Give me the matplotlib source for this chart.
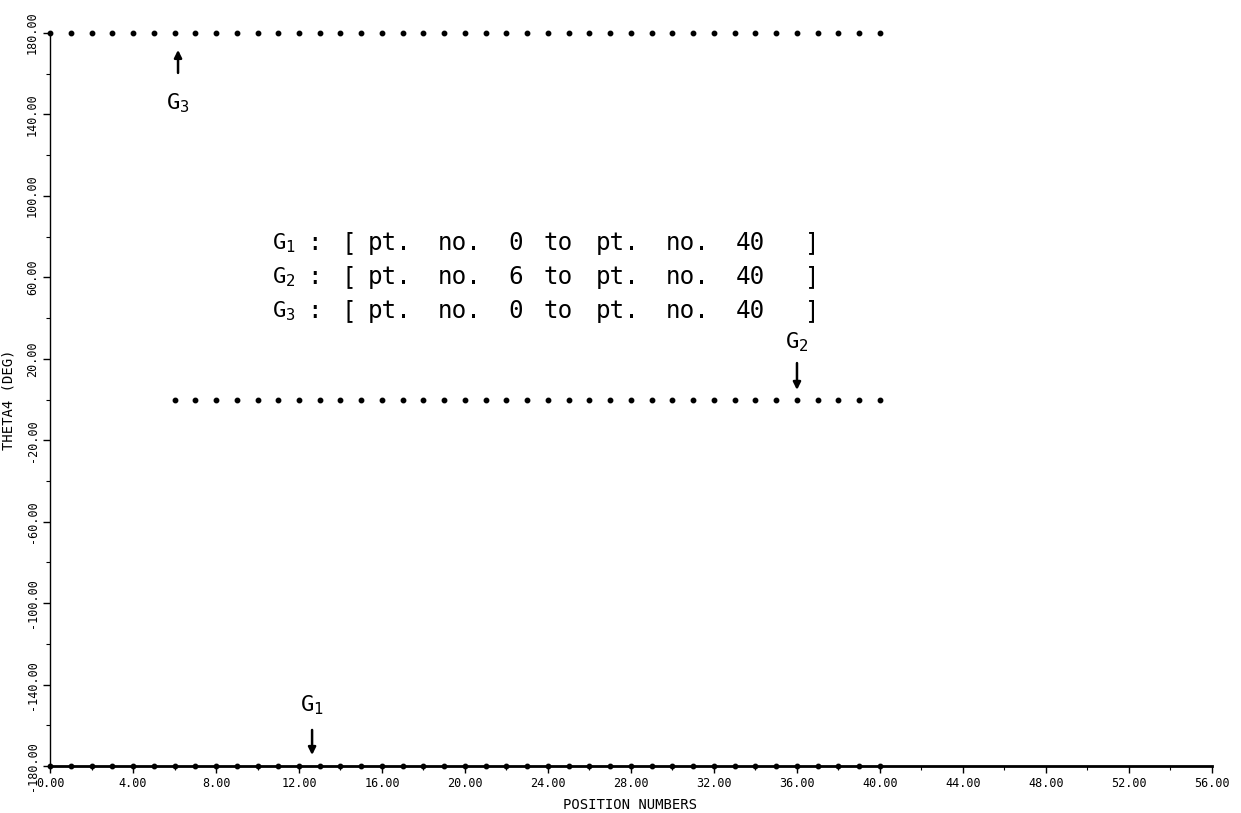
import matplotlib
matplotlib.use("Agg")
import matplotlib.pyplot as plt
import numpy as np

# theta4 groups: constant value over a range of position numbers
groups = ["G1", "G2", "G3"]
theta = [-180.0, 0.0, 180.0]
pt_start = [0, 6, 0]
pt_end = [40, 40, 40]

x_ticks = np.arange(0, 57, 4)
y_ticks = np.arange(-180, 181, 40)

plt.rcParams['font.family'] = ['DejaVu Sans Mono', 'DejaVu Sans']

fig = plt.figure(figsize=(12.41, 8.13), dpi=100)
ax = fig.add_axes([0.0403, 0.0578, 0.9363, 0.9016])

for g, th, a, b in zip(groups, theta, pt_start, pt_end):
    pts = np.arange(a, b + 1)
    ax.plot(pts, np.full(len(pts), th), linestyle='none', marker='o',
            markersize=3.2, color='black', clip_on=False, zorder=3)

ax.set_xlim(0, 56)
ax.set_ylim(-180, 180)
ax.set_xticks(x_ticks)
ax.set_xticklabels(['%.2f' % v for v in x_ticks], fontsize=8.5)
ax.set_xticks(np.arange(0, 57, 2), minor=True)
ax.set_yticks(y_ticks)
ax.set_yticklabels(['%.2f' % v for v in y_ticks], fontsize=8.5,
                   rotation=90, va='center')
ax.set_yticks(np.arange(-180, 181, 20), minor=True)
ax.tick_params(axis='both', which='major', direction='out', length=5, width=1)
ax.tick_params(axis='both', which='minor', direction='out', length=3, width=0.8)
ax.tick_params(axis='y', pad=3)
ax.tick_params(axis='x', pad=3)

for s in ['top', 'right']:
    ax.spines[s].set_visible(False)
ax.spines['left'].set_linewidth(1.0)
ax.spines['bottom'].set_linewidth(2.0)

ax.set_xlabel('POSITION NUMBERS', fontsize=10)
ax.xaxis.set_label_coords(0.499, -0.044)
ax.set_ylabel('THETA4 (DEG)', fontsize=10)
ax.yaxis.set_label_coords(-0.030, 0.5)

# range summary block: words set on a fixed cell pitch
line_y = [76.9, 60.2, 43.5]
g_x = 10.7
x0 = 15.33
pitch = 0.843
fs = 17.5
for g, a, b, yy in zip(groups, pt_start, pt_end, line_y):
    ax.text(g_x, yy, r'$\mathregular{G_%s}$' % g[1], fontsize=16,
            ha='left', va='center')
    words = [(':', -3.5), ('[', -1.5), ('pt.', 0), ('no.', 4), (str(a), 8),
             ('to', 10), ('pt.', 13), ('no.', 17), (str(b), 21), (']', 25)]
    for w, i in words:
        ax.text(x0 + i * pitch, yy, w, fontsize=fs, ha='left', va='center')

# arrows pointing at each group
arrows = {
    "G3": (6.17, 160.4, 171.7, 145.6),
    "G2": (36.0, 17.9, 4.7, 28.2),
    "G1": (12.63, -162.3, -174.6, -150.0),
}
for g, (xa, y0, y1, yl) in arrows.items():
    ax.annotate('', xy=(xa, y1), xytext=(xa, y0),
                arrowprops=dict(arrowstyle='-|>', color='black', lw=1.8,
                                mutation_scale=11, shrinkA=0, shrinkB=0),
                annotation_clip=False)
    ax.text(xa, yl, r'$\mathregular{G_%s}$' % g[1], fontsize=16,
            ha='center', va='center')

fig.savefig('out.png', dpi=100)
